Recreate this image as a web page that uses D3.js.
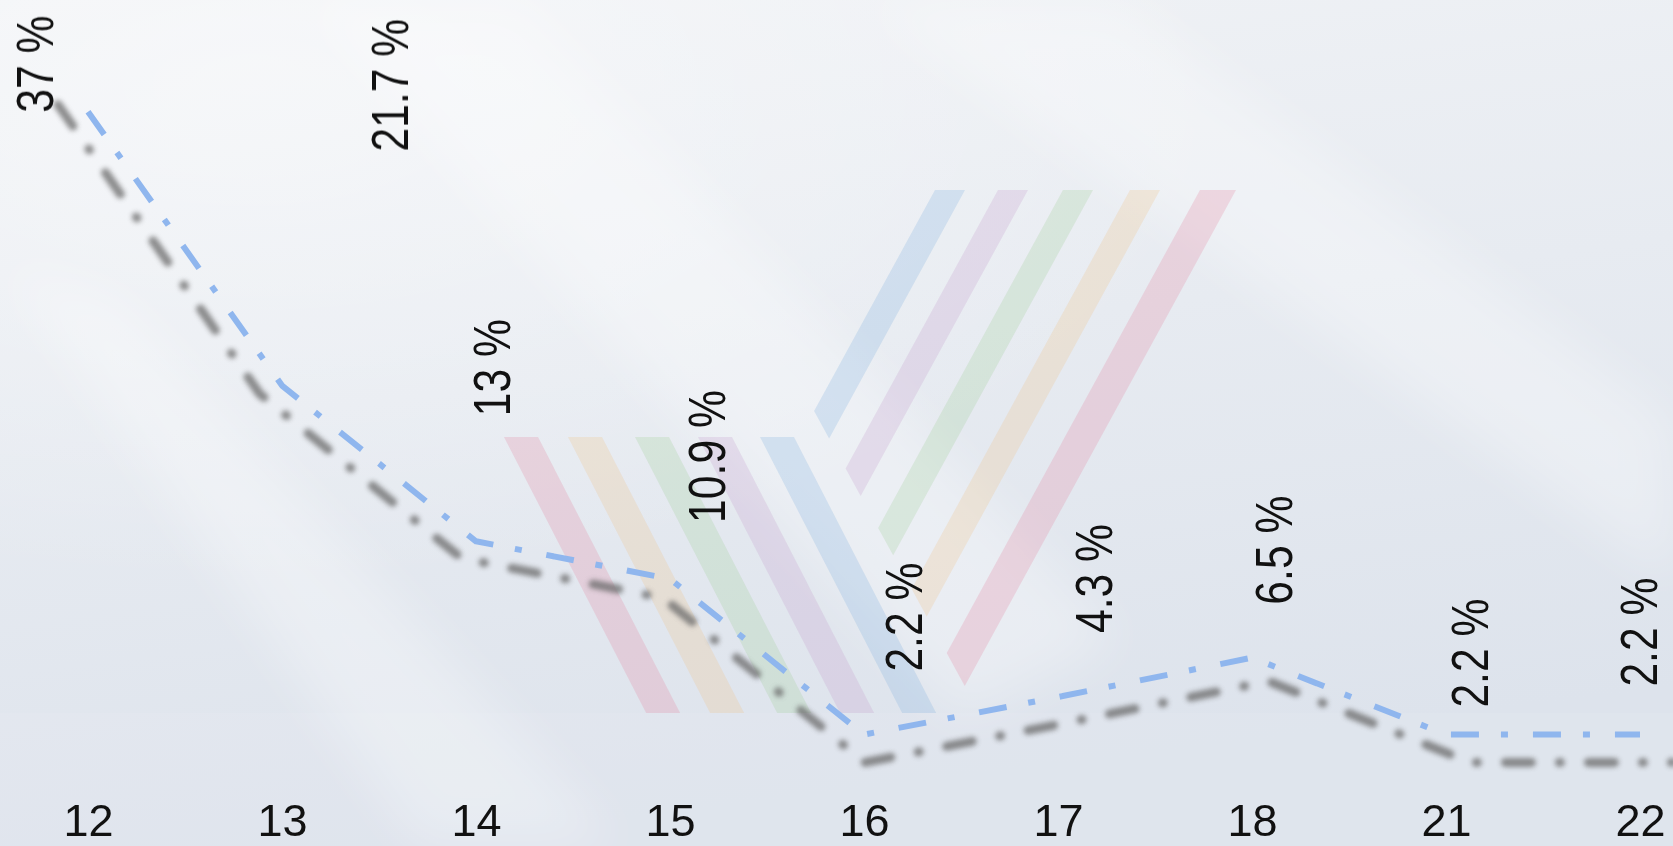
<!DOCTYPE html>
<html>
<head>
<meta charset="utf-8">
<script src="https://cdn.jsdelivr.net/npm/d3@7"></script>
<style>
  body { margin: 0; overflow: hidden; }
  svg { display: block; }
</style>
</head>
<body>
<div id="chart"></div>
<script>
let width = 1673,
    height = 846;

// data
const categories = ["12", "13", "14", "15", "16", "17", "18", "21", "22"];
const values = [37, 21.7, 13, 10.9, 2.2, 4.3, 6.5, 2.2, 2.2];
const valueLabels = ["37 %", "21.7 %", "13 %", "10.9 %", "2.2 %", "4.3 %", "6.5 %", "2.2 %", "2.2 %"];

// label placement (baseline x, start y) relative to each point
const labelShift = [[-35, 1], [126, -234], [34, -125], [55, -56], [58, -63], [54, -64], [40, -53], [42, -27], [17, -48]];

const svg = d3.select("#chart")
  .append("svg")
  .attr("width", width)
  .attr("height", height)
  .attr("viewBox", [0, 0, width, height]);

const defs = svg.append("defs");

const bg = defs.append("linearGradient")
  .attr("id", "bg")
  .attr("x1", 0).attr("y1", 0).attr("x2", 0.25).attr("y2", 1);
bg.append("stop").attr("offset", 0).attr("stop-color", "#f1f3f6");
bg.append("stop").attr("offset", 0.5).attr("stop-color", "#e7ebf1");
bg.append("stop").attr("offset", 1).attr("stop-color", "#dde3ec");

const glow = defs.append("radialGradient")
  .attr("id", "glow")
  .attr("cx", 0.15).attr("cy", 0.1).attr("r", 0.6);
glow.append("stop").attr("offset", 0).attr("stop-color", "#fff").attr("stop-opacity", 0.45);
glow.append("stop").attr("offset", 1).attr("stop-color", "#fff").attr("stop-opacity", 0);

defs.append("filter").attr("id", "shadow")
  .attr("x", "-5%").attr("y", "-5%").attr("width", "110%").attr("height", "110%")
  .append("feGaussianBlur").attr("stdDeviation", 2.4);

defs.append("filter").attr("id", "soft")
  .attr("x", "-30%").attr("y", "-30%").attr("width", "160%").attr("height", "160%")
  .append("feGaussianBlur").attr("stdDeviation", 25);

// background
svg.append("rect").attr("width", width).attr("height", height).attr("fill", "url(#bg)");
svg.append("rect").attr("width", width).attr("height", height).attr("fill", "url(#glow)");

const streaks = [
  [[300, 0], [520, 0], [1120, 640], [960, 720]],
  [[860, 0], [1120, 0], [1673, 420], [1673, 580]],
  [[0, 260], [120, 300], [620, 846], [420, 846]]
];
svg.append("g")
  .attr("filter", "url(#soft)")
  .selectAll("polygon")
  .data(streaks)
  .join("polygon")
    .attr("points", d => d.join(" "))
    .attr("fill", "#fff")
    .attr("opacity", 0.3);

svg.append("rect")
  .attr("y", 713).attr("width", width).attr("height", height - 713)
  .attr("fill", "#fff").attr("opacity", 0.07);

// faint watermark logo
const stripeColors = ["#e485a0", "#f0c188", "#a0cd98", "#c49dcc", "#7fb0dd"];
const logo = svg.append("g").attr("opacity", 0.25);

// left arm, slanting down to the right
const leftTops = [504, 568, 635, 698, 760];
leftTops.forEach((x0, i) => {
  const w = 34, top = 437, bottom = 713, k = 0.515;
  const dx = (bottom - top) * k;
  logo.append("polygon")
    .attr("points", [[x0, top], [x0 + w, top], [x0 + w + dx, bottom], [x0 + dx, bottom]].join(" "))
    .attr("fill", stripeColors[i]);
});

// right arm, slanting down to the left, cut along a diagonal
const rightTops = [1200, 1130, 1063, 998, 935];
rightTops.forEach((x0, i) => {
  const w = i === 0 ? 36 : 30, top = 190, k = 0.547;
  const cut = y => 830 + (y - 440) * 0.548;
  const yR = (x0 + w + k * top - 830 + 0.548 * 440) / (k + 0.548);
  const yL = (x0 + k * top - 830 + 0.548 * 440) / (k + 0.548);
  logo.append("polygon")
    .attr("points", [[x0, top], [x0 + w, top], [cut(yR), yR], [cut(yL), yL]].join(" "))
    .attr("fill", stripeColors[i]);
});

// scales
let x = d3.scalePoint()
  .domain(categories)
  .range([88, 1640]);

let y = d3.scaleLinear()
  .domain([0, 40])
  .range([774, 58]);

// the shadow sits a little wider and lower than the line
let xShadow = d3.scalePoint()
  .domain(categories)
  .range([58, 1672]);

let yShadow = d3.scaleLinear()
  .domain([0, 40])
  .range([804, 48]);

// x axis, labels only
svg.append("g")
  .attr("transform", "translate(0,804)")
  .call(d3.axisBottom(x).tickSize(0).tickPadding(0))
  .call(g => g.select(".domain").remove())
  .call(g => g.selectAll("text")
    .attr("font-family", "'Liberation Sans', Arial, sans-serif")
    .attr("font-size", 45)
    .attr("fill", "#111"));

let shadowLine = d3.line()
  .x((d, i) => xShadow(categories[i]))
  .y(d => yShadow(d));

let line = d3.line()
  .x((d, i) => x(categories[i]))
  .y(d => y(d));

svg.append("path")
  .datum(values)
  .attr("fill", "none")
  .attr("stroke", "#6a6a6a")
  .attr("stroke-width", 9)
  .attr("stroke-linecap", "round")
  .attr("stroke-linejoin", "round")
  .attr("stroke-dasharray", "26,28,1,28")
  .attr("opacity", 0.75)
  .attr("filter", "url(#shadow)")
  .attr("d", shadowLine);

svg.append("path")
  .datum(values)
  .attr("fill", "none")
  .attr("stroke", "#8fb6ee")
  .attr("stroke-width", 6)
  .attr("stroke-linejoin", "round")
  .attr("stroke-dasharray", "28,22,7,25")
  .attr("d", line);

// value labels, rotated
svg.append("g")
  .selectAll("text")
  .data(values)
  .join("text")
    .attr("transform", (d, i) => `translate(${x(categories[i]) + labelShift[i][0]},${y(d) + labelShift[i][1]}) rotate(-90) scale(0.82,1)`)
    .attr("font-family", "'Liberation Sans', Arial, sans-serif")
    .attr("font-size", 52)
    .attr("fill", "#111")
    .attr("text-anchor", "start")
    .text((d, i) => valueLabels[i]);
</script>
</body>
</html>
